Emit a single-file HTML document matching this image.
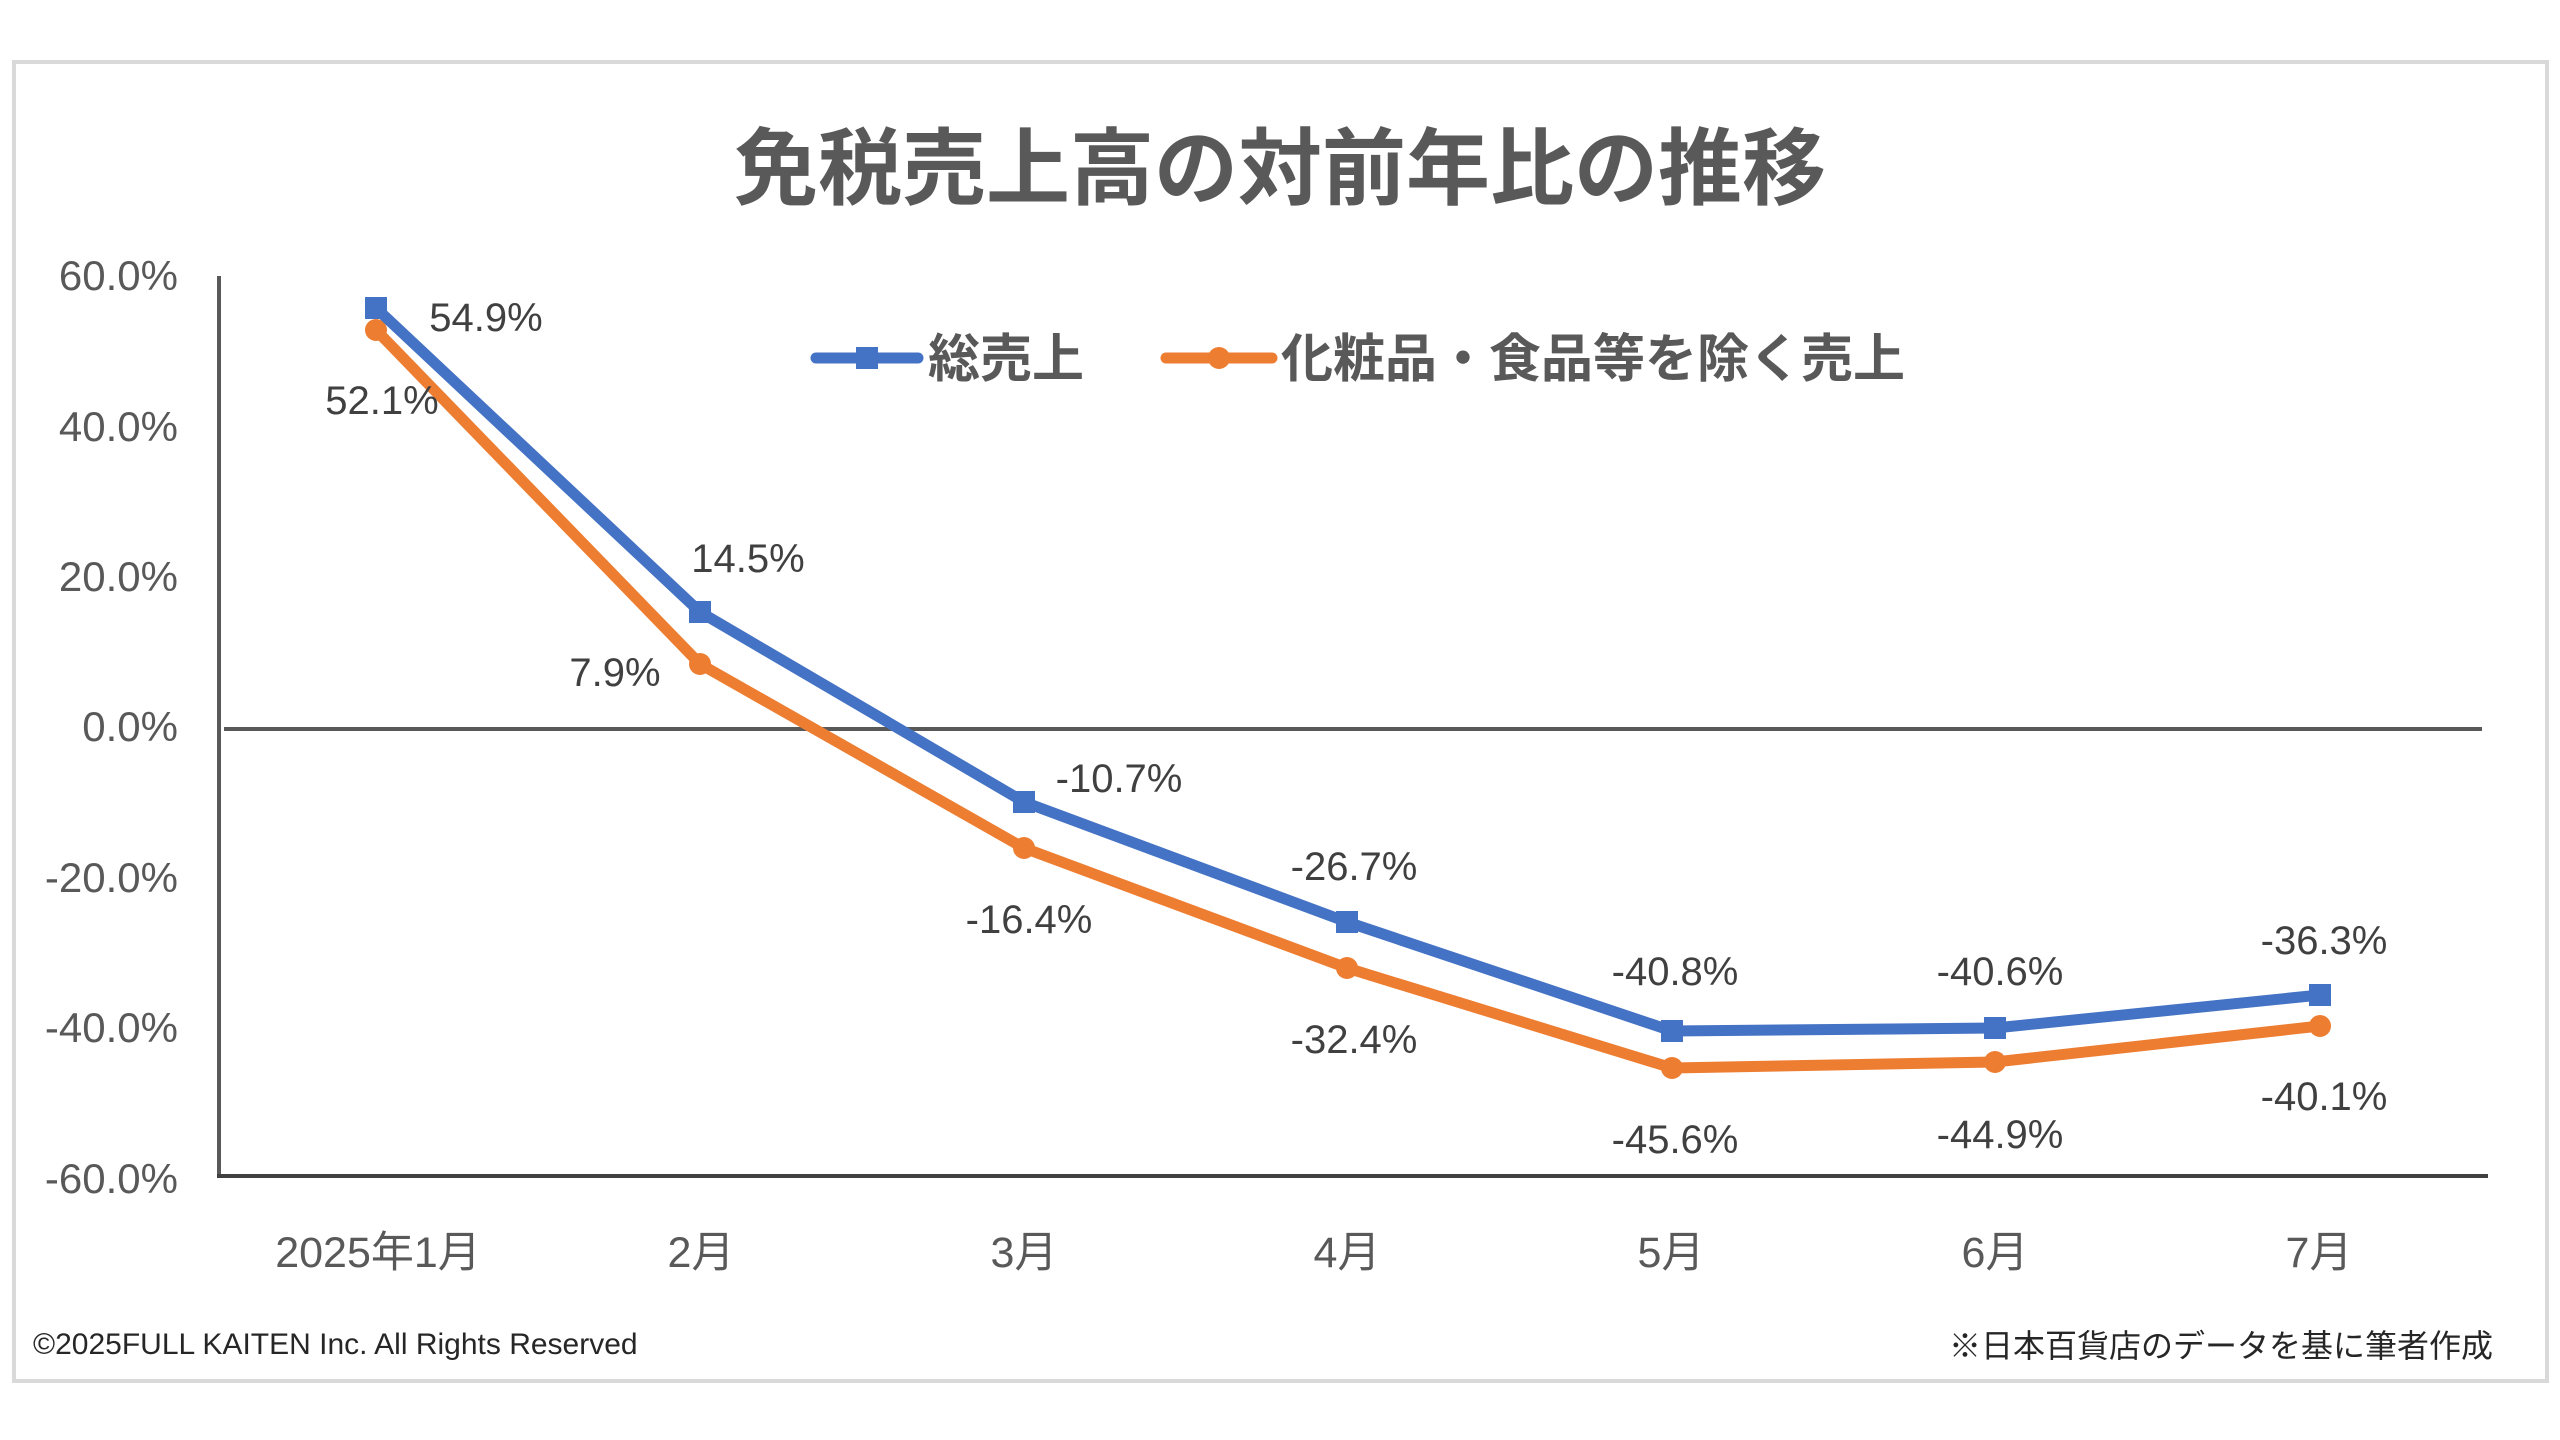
<!DOCTYPE html>
<html><head><meta charset="utf-8"><style>
html,body{margin:0;padding:0;background:#fff;}
svg{display:block;}
text{font-family:"Liberation Sans","Noto Sans CJK JP",sans-serif;}
</style></head><body>
<svg width="2560" height="1440" viewBox="0 0 2560 1440" xmlns="http://www.w3.org/2000/svg">
<rect x="0" y="0" width="2560" height="1440" fill="#fff"/>
<rect x="14" y="62" width="2533" height="1319" fill="#fff" stroke="#d9d9d9" stroke-width="4"/>
<text x="1280" y="198" text-anchor="middle" font-size="84" font-weight="bold" fill="#595959" style="font-family:'Noto Sans CJK JP',sans-serif">免税売上高の対前年比の推移</text>
<g font-size="42" fill="#595959" text-anchor="end">
<text x="178" y="290">60.0%</text>
<text x="178" y="441">40.0%</text>
<text x="178" y="591">20.0%</text>
<text x="178" y="741">0.0%</text>
<text x="178" y="892">-20.0%</text>
<text x="178" y="1042">-40.0%</text>
<text x="178" y="1193">-60.0%</text>
</g>
<line x1="219" y1="276" x2="219" y2="1178" stroke="#595959" stroke-width="4"/>
<line x1="217" y1="1176" x2="2488" y2="1176" stroke="#404040" stroke-width="4"/>
<line x1="224" y1="729" x2="2482" y2="729" stroke="#595959" stroke-width="4"/>
<g font-size="43" fill="#595959" text-anchor="middle">
<text x="378" y="1267">2025年1月</text>
<text x="701" y="1267">2月</text>
<text x="1024" y="1267">3月</text>
<text x="1347" y="1267">4月</text>
<text x="1671" y="1267">5月</text>
<text x="1995" y="1267">6月</text>
<text x="2319" y="1267">7月</text>
</g>
<polyline fill="none" stroke="#ed7d31" stroke-width="11" stroke-linejoin="round" points="376,330 700,664 1024,848 1347,968 1672,1068 1995,1062 2320,1026"/>
<g fill="#ed7d31">
<circle cx="376" cy="330" r="11"/><circle cx="700" cy="664" r="11"/><circle cx="1024" cy="848" r="11"/><circle cx="1347" cy="968" r="11"/><circle cx="1672" cy="1068" r="11"/><circle cx="1995" cy="1062" r="11"/><circle cx="2320" cy="1026" r="11"/>
</g>
<polyline fill="none" stroke="#4472c4" stroke-width="11" stroke-linejoin="round" points="376,308 700,612 1024,802 1347,922 1672,1031 1995,1028 2320,995"/>
<g fill="#4472c4">
<rect x="365" y="297" width="22" height="22"/><rect x="689" y="601" width="22" height="22"/><rect x="1013" y="791" width="22" height="22"/><rect x="1336" y="911" width="22" height="22"/><rect x="1661" y="1020" width="22" height="22"/><rect x="1984" y="1017" width="22" height="22"/><rect x="2309" y="984" width="22" height="22"/>
</g>
<g font-size="40" fill="#404040" text-anchor="middle">
<text x="486" y="331">54.9%</text>
<text x="382" y="414">52.1%</text>
<text x="748" y="572">14.5%</text>
<text x="615" y="686">7.9%</text>
<text x="1119" y="792">-10.7%</text>
<text x="1029" y="933">-16.4%</text>
<text x="1354" y="880">-26.7%</text>
<text x="1354" y="1053">-32.4%</text>
<text x="1675" y="985">-40.8%</text>
<text x="1675" y="1153">-45.6%</text>
<text x="2000" y="985">-40.6%</text>
<text x="2000" y="1148">-44.9%</text>
<text x="2324" y="954">-36.3%</text>
<text x="2324" y="1110">-40.1%</text>
</g>
<line x1="816" y1="358" x2="918" y2="358" stroke="#4472c4" stroke-width="11" stroke-linecap="round"/>
<rect x="856" y="347" width="22" height="22" fill="#4472c4"/>
<text x="928" y="377" font-size="52" font-weight="bold" fill="#595959" style="font-family:'Noto Sans CJK JP',sans-serif">総売上</text>
<line x1="1166" y1="358" x2="1272" y2="358" stroke="#ed7d31" stroke-width="11" stroke-linecap="round"/>
<circle cx="1219" cy="358" r="11" fill="#ed7d31"/>
<text x="1281" y="377" font-size="52" font-weight="bold" fill="#595959" style="font-family:'Noto Sans CJK JP',sans-serif">化粧品・食品等を除く売上</text>
<text x="33" y="1354" font-size="30" fill="#262626">©2025FULL KAITEN Inc. All Rights Reserved</text>
<text x="2493" y="1357" font-size="32" fill="#262626" text-anchor="end" style="font-family:'Noto Sans CJK JP',sans-serif">※日本百貨店のデータを基に筆者作成</text>
</svg>
</body></html>
